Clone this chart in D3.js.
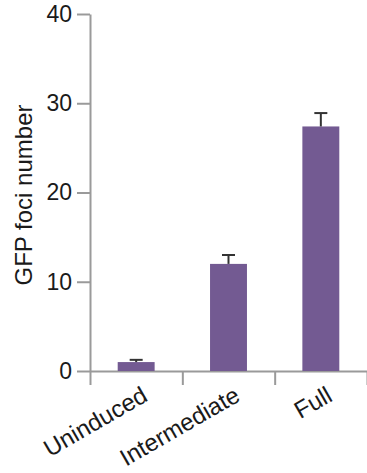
<!DOCTYPE html>
<html>
<head>
<meta charset="utf-8">
<script src="https://cdn.jsdelivr.net/npm/d3@7"></script>
<style>
  body { margin: 0; background: #fff; }
  svg text { font-family: "Liberation Sans", Arial, sans-serif; fill: #1a1a1a; }
</style>
</head>
<body>
<svg id="chart" width="367" height="473"></svg>
<script>
const categories = ['Uninduced', 'Intermediate', 'Full'];
const means = [1.0, 12.0, 27.4];
const errors = [0.25, 1.0, 1.5];
const yTicks = [0, 10, 20, 30, 40];

const svg = d3.select('#chart');
const axisColor = '#9a9a9a';
const barColor = '#735a92';

const y = d3.scaleLinear().domain([0, 40]).range([371, 14]);
const x = d3.scaleBand().domain(categories).range([90, 367]).paddingInner(0).paddingOuter(0);
const xEdges = d3.scaleLinear().domain([0, categories.length]).range([90, 367]);

// y axis
const yAxis = svg.append('g')
  .attr('transform', 'translate(90,0)')
  .call(d3.axisLeft(y).tickValues(yTicks).tickSize(13).tickSizeOuter(0).tickPadding(5));
yAxis.select('.domain').attr('stroke', axisColor).attr('stroke-width', 2);
yAxis.selectAll('.tick line').attr('stroke', axisColor).attr('stroke-width', 2);
yAxis.selectAll('.tick text').style('font-size', '23px').attr('fill', '#1a1a1a');

// x axis: ticks at category boundaries
const xAxis = svg.append('g')
  .attr('transform', `translate(0,${y(0)})`)
  .call(d3.axisBottom(xEdges).tickValues(d3.range(categories.length + 1)).tickSize(14).tickSizeOuter(0).tickFormat(''));
xAxis.select('.domain').attr('stroke', axisColor).attr('stroke-width', 2);
xAxis.selectAll('.tick line').attr('stroke', axisColor).attr('stroke-width', 2);

// category labels
svg.append('g').selectAll('text')
  .data(categories)
  .enter().append('text')
  .attr('text-anchor', 'end')
  .attr('transform', d => `translate(${x(d) + x.bandwidth() / 2 + 13},400) rotate(-30)`)
  .style('font-size', '24px')
  .text(d => d);

// bars
const barW = x.bandwidth() * 0.4;
svg.append('g').selectAll('rect')
  .data(categories)
  .enter().append('rect')
  .attr('x', d => x(d) + (x.bandwidth() - barW) / 2)
  .attr('y', (d, i) => y(means[i]))
  .attr('width', barW)
  .attr('height', (d, i) => y(0) - y(means[i]))
  .attr('fill', barColor);

// error bars (upper only)
const err = svg.append('g').attr('stroke', '#333').attr('stroke-width', 2);
categories.forEach((c, i) => {
  const cx = x(c) + x.bandwidth() / 2;
  err.append('line')
    .attr('x1', cx).attr('x2', cx)
    .attr('y1', y(means[i])).attr('y2', y(means[i] + errors[i]));
  err.append('line')
    .attr('x1', cx - 6.5).attr('x2', cx + 6.5)
    .attr('y1', y(means[i] + errors[i])).attr('y2', y(means[i] + errors[i]));
});

// y label
svg.append('text')
  .attr('transform', 'translate(32,195) rotate(-90)')
  .attr('text-anchor', 'middle')
  .style('font-size', '24px')
  .text('GFP foci number');
</script>
</body>
</html>
